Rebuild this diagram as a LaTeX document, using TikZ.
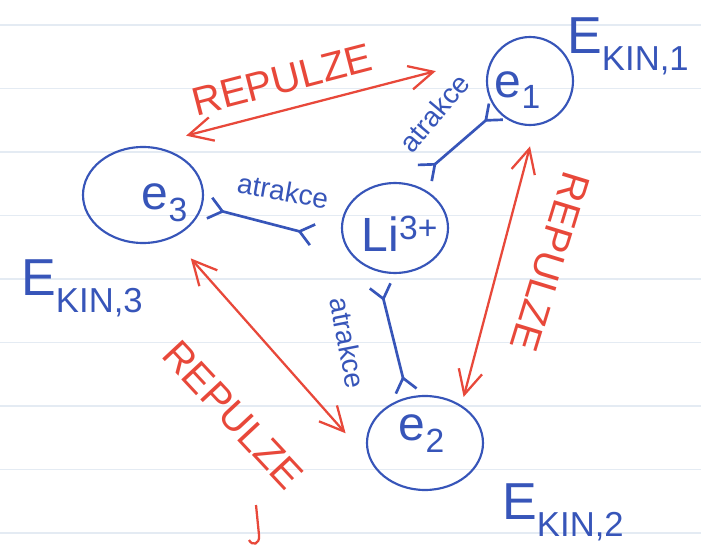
\documentclass[tikz,border=0pt]{standalone}
\usepackage{fontspec}
\setmainfont{Liberation Sans}
\usetikzlibrary{arrows.meta,shapes.geometric,calc}

\definecolor{inkblue}{RGB}{55,85,185}
\definecolor{inkred}{RGB}{232,72,58}
\definecolor{ruled}{RGB}{228,235,243}

\newcommand{\Ekin}[1]{E{\fontsize{26}{26}\selectfont\raisebox{-0.5em}{KIN,#1}}}

\tikzset{
  body/.style={ellipse, draw=inkblue, line width=1.6pt, inner sep=0pt},
  rep/.style={draw=inkred, line width=1.7pt, {Straight Barb[length=18pt,width=18pt]}-{Straight Barb[length=18pt,width=18pt]}},
  atr/.style={draw=inkblue, line width=2pt, {Straight Barb[reversed,length=10pt,width=16pt]}-{Straight Barb[reversed,length=10pt,width=16pt]}},
  replab/.style={text=inkred, font=\fontsize{30}{30}\selectfont},
  atrlab/.style={text=inkblue, font=\fontsize{21}{21}\selectfont},
  ink/.style={text=inkblue, font=\fontsize{36}{36}\selectfont},
  ekin/.style={text=inkblue, font=\fontsize{39}{39}\selectfont},
}

\begin{document}
\begin{tikzpicture}[x=0.75pt, y=-0.75pt]

\useasboundingbox (0,0) rectangle (701,550);
\fill[white] (0,0) rectangle (701,550);

% ruled paper
\foreach \k in {0,...,8}
  \draw[ruled, line width=1pt] (0,25+63.5*\k) -- (701,25+63.5*\k);

% bodies
\node[body, minimum width=64.5pt, minimum height=66pt] (e1) at (530,81) {};
\node[body, minimum width=87pt, minimum height=70.5pt] (e2) at (425,443) {};
\node[body, minimum width=90pt, minimum height=72pt] (e3) at (143,195) {};
\node[body, minimum width=79.5pt, minimum height=67.5pt] (li) at (395,228) {};

\node[ink] (t1) at (518,90) {e\textsubscript{1}};
\node[ink] (t2) at (422,434) {e\textsubscript{2}};
\node[ink] (t3) at (165,203) {e\textsubscript{3}};
\node[ink] (tli) at (400,234) {Li\textsuperscript{3+}};

\node[ekin] (k1) at (628,46) {\Ekin{1}};
\node[ekin] (k2) at (563,512) {\Ekin{2}};
\node[ekin] (k3) at (82,288) {\Ekin{3}};

% attraction
\draw[atr] ($(e3)!1.1!(e3.-11)$) -- ($(li)!1.51!(li.185)$);
\draw[atr] ($(li)!1.29!(li.62)$) -- (e1.222);
\draw[atr] ($(li)!1.26!(li.255)$) -- ($(e2)!1.1!(e2.110)$);

\node[atrlab, rotate=-10] (a3) at (283,191) {atrakce};
\node[atrlab, rotate=50] (a1) at (434,113) {atrakce};
\node[atrlab, rotate=-79] (a2) at (348,343) {atrakce};

% repulsion
\draw[rep] ($(e3)!1.4!(e3.54)$) -- ($(e1)!2.15!(e1.174)$);
\draw[rep] ($(e1)!1.45!(e1.-90)$) -- ($(e2)!1.16!(e2.50)$);
\draw[rep] ($(e3)!1.51!(e3.-53)$) -- ($(e2)!1.36!(e2.173)$);

\node[replab, rotate=14.5] (r1) at (282,80) {REPULZE};
\node[replab, rotate=-107] (r2) at (550,262) {REPULZE};
\node[replab, rotate=-47] (r3) at (233,415) {REPULZE};

\draw[inkred, line width=1.7pt] (256,505) -- (259,535) .. controls (260,545) and (252,546) .. (249,540);

\end{tikzpicture}
\end{document}
